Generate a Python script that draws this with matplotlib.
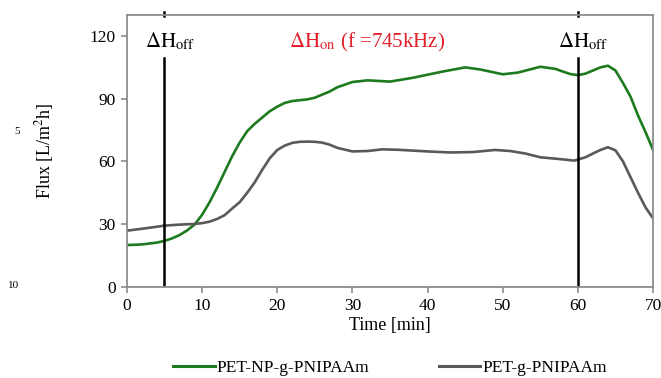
import matplotlib
matplotlib.use("Agg")
import matplotlib.pyplot as plt
from matplotlib.lines import Line2D

plt.rcParams['font.family'] = ['Liberation Serif', 'DejaVu Serif']
plt.rcParams['mathtext.fontset'] = 'stix'

#-----------------------------
# Data
#-----------------------------
t_np = [0, 2, 4, 5, 6, 7, 8, 9, 10, 11, 12, 13, 14, 15, 16, 17, 18, 19, 20, 21, 22,
        23, 24, 25, 26, 27, 28, 30, 32, 35, 38, 40, 42, 45, 47, 50, 52, 55, 57, 58,
        59, 60, 61, 62, 63, 64, 65, 66, 67, 68, 69, 70]
flux_np = [20, 20.3, 21.2, 22, 23.2, 24.8, 27, 29.8, 34.5, 40.5, 47.5, 55, 62.5, 69,
           74.5, 78, 81, 84, 86.2, 88, 88.9, 89.3, 89.7, 90.5, 92, 93.5, 95.5, 98,
           98.8, 98.2, 100, 101.5, 103, 105, 104, 101.7, 102.5, 105.3, 104.3, 103,
           101.8, 101.3, 102, 103.5, 105, 105.8, 103.5, 97.5, 91, 82, 74, 65.5]

t_pet = [0, 2, 4, 5, 7, 9, 10, 11, 12, 13, 14, 15, 16, 17, 18, 19, 20, 21, 22, 23,
         24, 25, 26, 27, 28, 30, 32, 34, 36, 40, 43, 46, 49, 51, 53, 55, 58, 59.5,
         61, 62, 63, 64, 65, 66, 67, 68, 69, 70]
flux_pet = [26.9, 27.8, 28.8, 29.3, 29.8, 30.1, 30.5, 31.2, 32.5, 34.3, 37.5, 40.5,
            45, 50, 56, 61.5, 65.5, 67.6, 68.9, 69.4, 69.5, 69.4, 69, 68, 66.5,
            64.8, 65, 65.8, 65.6, 64.8, 64.3, 64.5, 65.5, 65, 63.8, 62, 61, 60.4,
            62, 63.8, 65.5, 66.8, 65.3, 60, 52.5, 45, 38, 32.8]

field_off_times = [5, 60]
x_ticks = [0, 10, 20, 30, 40, 50, 60, 70]
y_ticks = [0, 30, 60, 90, 120]

GREEN = '#1e7a1e'
GRAY = '#595959'
SPINE = '#8c8c8c'

#-----------------------------
# Figure
#-----------------------------
fig = plt.figure(figsize=(6.61, 3.78), dpi=100)
ax = fig.add_axes([0.192, 0.241, 0.796, 0.719])

ax.plot(t_np, flux_np, color=GREEN, lw=1.9, solid_capstyle='round')
ax.plot(t_pet, flux_pet, color=GRAY, lw=1.9, solid_capstyle='round')

# field switched off markers
for tx in field_off_times:
    ax.plot([tx, tx], [0, 109.5], color='black', lw=1.8)
    ax.plot([tx, tx], [129.5, 131.5], color='black', lw=1.8, clip_on=False)

ax.text(5.8, 114.5, r'$\Delta\mathrm{H}_{\mathrm{off}}$', ha='center', va='baseline', fontsize=15)
ax.text(60.7, 114.5, r'$\Delta\mathrm{H}_{\mathrm{off}}$', ha='center', va='baseline', fontsize=15)
ax.text(32.0, 114.5, r'$\Delta\mathrm{H}_{\mathrm{on}}$ (f =745kHz)', ha='center',
        va='baseline', fontsize=15, color='#e3202b')

ax.set_xlim(0, 70)
ax.set_ylim(0, 130)
ax.set_xticks(x_ticks)
ax.set_yticks(y_ticks)
ax.tick_params(direction='out', length=4, width=1.2, color=SPINE, labelsize=12.5, pad=4)
for s in ax.spines.values():
    s.set_color(SPINE)
    s.set_linewidth(1.3)

ax.set_xlabel('Time [min]', fontsize=13, labelpad=2)
ax.set_ylabel('Flux [L/m$^2$h]', fontsize=13, labelpad=24)

# legend below the plot
handles = [Line2D([], [], color=GREEN, lw=2.2), Line2D([], [], color=GRAY, lw=2.2)]
fig.legend(handles, ['PET-NP-g-PNIPAAm', 'PET-g-PNIPAAm'], loc='center',
           bbox_to_anchor=(0.59, 0.027), ncol=2, frameon=False, fontsize=12.5,
           handlelength=2.4, handletextpad=0.1, columnspacing=4.0)

# line numbers from the source page
fig.text(17 / 661, 1 - 132 / 378, '5', fontsize=8, ha='center', va='center')
fig.text(14 / 661, 1 - 286 / 378, '10', fontsize=8, ha='center', va='center')

fig.savefig('out.png', dpi=100)
